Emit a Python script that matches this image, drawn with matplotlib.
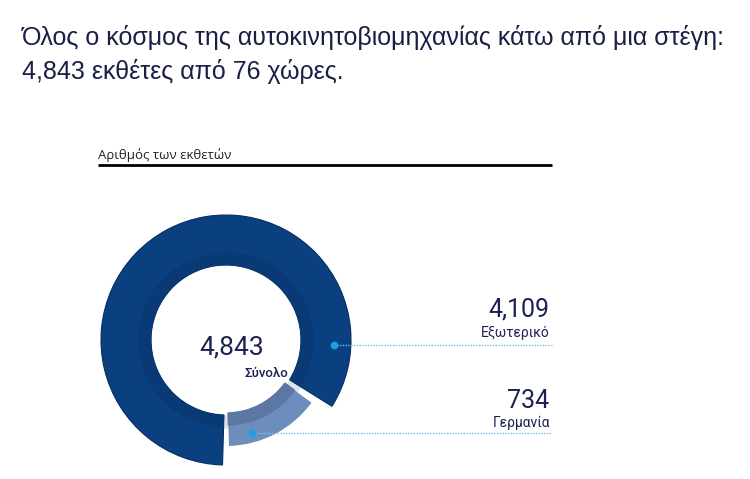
import numpy as np
import matplotlib.pyplot as plt
from matplotlib.patches import Wedge

# data
title_lines = ["Όλος ο κόσμος της αυτοκινητοβιομηχανίας κάτω από μια στέγη:",
               "4,843 εκθέτες από 76 χώρες."]
subtitle = "Αριθμός των εκθετών"
categories = ["Γερμανία", "Εξωτερικό"]
values = [734, 4109]
total_label = "Σύνολο"

W, H = 750, 479
def Y(y):
    return H - y

fig = plt.figure(figsize=(7.5, 4.79), dpi=100)
ax = fig.add_axes([0, 0, 1, 1])

cx, cy = 226, Y(340)
navy = '#0a4080'
light = '#6d8ebc'

# pale shadow seen in the gaps
ax.add_patch(Wedge((cx, cy), 88, 0, 360, width=12, color='#dfe3e9', zorder=1))

wedges, _ = ax.pie(values, startangle=-90, counterclock=True, radius=125,
                   center=(cx, cy), colors=[light, navy],
                   wedgeprops=dict(width=50, edgecolor='none'))
ger, ext = wedges
# gaps between slices and smaller Germany slice
ger.set_theta1(ger.theta1 + 1.6)
ger.set_theta2(ger.theta2 - 0.8)
ger.set_radius(106)
ger.set_width(33)
ext.set_theta1(ext.theta1 + 3.4)
ext.set_theta2(ext.theta2 - 1.6)
ext.set_edgecolor('#062d60')
ext.set_linewidth(0.8)
for w in wedges:
    w.set_zorder(2)

# slightly darker inner bands
ax.add_patch(Wedge((cx, cy), 87, ext.theta1 + 0.3, ext.theta2 - 0.3, width=11.5,
                   color='#093a76', zorder=3))
ax.add_patch(Wedge((cx, cy), 85, ger.theta1, ger.theta2, width=12,
                   color='#5c77a3', zorder=3))

ax.set_xlim(0, W)
ax.set_ylim(0, H)
ax.set_aspect('equal')
ax.axis('off')

title_col = '#1b1f45'
ax.text(22, Y(45), title_lines[0], fontsize=18, family='Liberation Sans',
        color=title_col, va='baseline')
ax.text(22, Y(79), title_lines[1], fontsize=18, family='Liberation Sans',
        color=title_col, va='baseline')

ax.text(98, Y(159), subtitle, fontsize=9.5, family='Open Sans',
        color='#222222', va='baseline')
ax.plot([98, 552], [Y(165), Y(165)], color='black', lw=2, solid_capstyle='butt')

num_col = '#1c2152'
ax.text(232, Y(355), f"{sum(values):,}", fontsize=19, family='Roboto',
        color=num_col, ha='center', va='baseline')
ax.text(266, Y(377), total_label, fontsize=9.5, family='Roboto', weight='medium',
        color=num_col, ha='center', va='baseline')

# callouts: (dot x, dot y, value baseline, label baseline)
callouts = [(334, 345, 317, 337), (252, 433, 408, 427)]
order = [1, 0]
for (dx, dy, vy, ly), i in zip(callouts, order):
    ax.plot([dx, 552], [Y(dy), Y(dy)], color='#7cc3ea', lw=1,
            linestyle=(0, (1, 1)), zorder=4)
    ax.plot(dx, Y(dy), 'o', ms=4.5, color='#1ba1e2', zorder=5)
    ax.text(549, Y(vy), f"{values[i]:,}", fontsize=18, family='Roboto',
            color=num_col, ha='right', va='baseline')
    ax.text(550, Y(ly), categories[i], fontsize=10, family='Roboto',
            color=num_col, ha='right', va='baseline')

fig.savefig('out.png', dpi=100)
